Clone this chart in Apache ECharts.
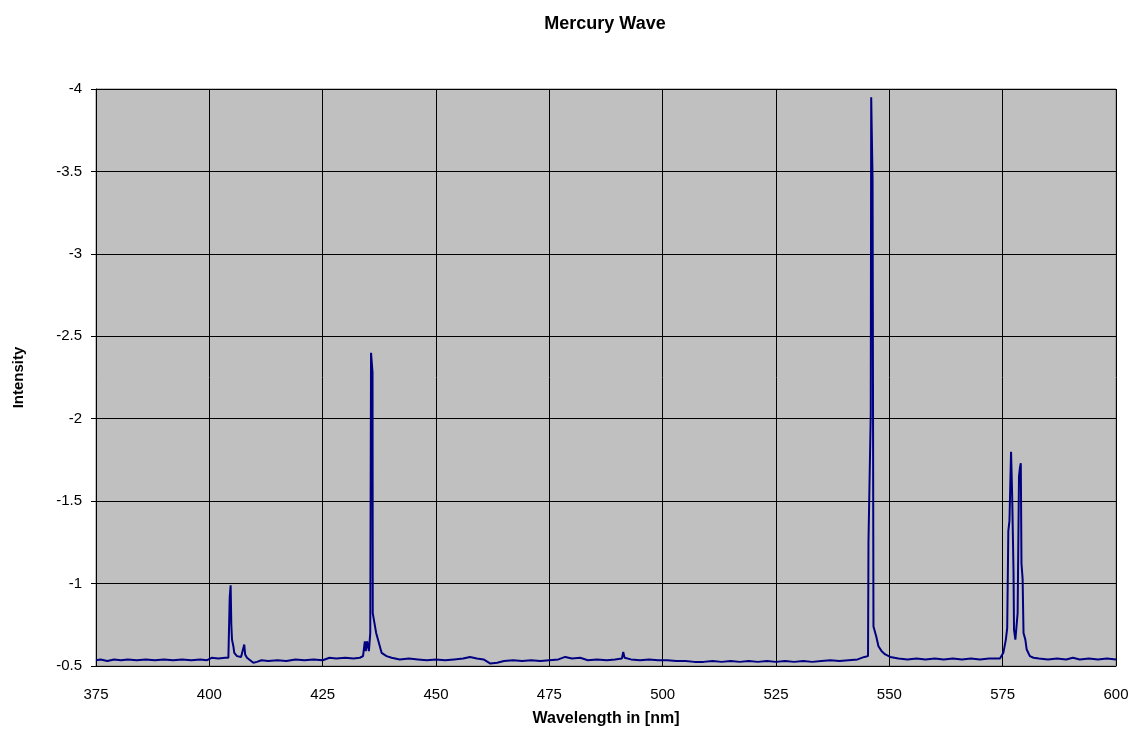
<!DOCTYPE html>
<html>
<head>
<meta charset="utf-8">
<title>Mercury Wave</title>
<script src="https://cdn.jsdelivr.net/npm/echarts@6/dist/echarts.min.js"></script>
<style>
  html, body { margin: 0; padding: 0; background: #fff; }
  #main { width: 1138px; height: 753px; }
</style>
</head>
<body>
<div id="main"></div>
<script>
// wavelength in nm
var wavelengths = [
  375, 376, 377.5, 379, 380.5, 382, 384, 386, 388, 390, 392, 394, 396, 398, 399.5,
  400.5, 402, 403.5, 404.2, 404.4, 404.5, 404.7, 404.85, 405.0, 405.3, 405.5, 406.1,
  407.0, 407.4, 407.7, 407.9, 408.3, 409.0, 409.7, 410.5, 411.5, 413, 415, 417, 419,
  421, 423, 425, 426.5, 428, 430, 431.8, 433.2, 433.9, 434.3, 434.5, 434.8, 435.2,
  435.5, 435.67, 436.0, 436.05, 436.3, 436.8, 437.3, 438.0, 439.1, 440.2, 442, 444,
  446, 448, 450, 452, 454, 456, 457.5, 459, 460.5, 462, 463.5, 465, 467, 469, 471,
  473, 475, 477, 478.5, 480, 481.8, 483.5, 485.5, 487.7, 489.5, 491, 491.3, 491.6,
  493, 495, 497, 499, 501, 503, 505, 507, 509, 511, 513, 515, 517, 519, 521, 523,
  525, 527, 529, 531, 533, 535, 537, 539, 541, 543, 544.5, 545.3, 545.4, 545.9,
  546.0, 546.3, 546.5, 547.1, 547.6, 548.3, 549.1, 550.2, 552, 554, 556, 558, 560,
  562, 564, 566, 568, 570, 572, 574.4, 575.15, 575.7, 576.0, 576.25, 576.5, 576.85,
  577.1, 577.4, 577.5, 577.8, 578.0, 578.3, 578.6, 578.8, 579.0, 579.15, 579.4,
  579.6, 580.0, 580.3, 581.0, 581.8, 583, 585, 587, 589, 590.5, 592, 594, 596, 598, 600
];

// intensity
var intensity = [
  -0.535, -0.54, -0.53, -0.54, -0.535, -0.54, -0.535, -0.54, -0.535, -0.54, -0.535, -0.54, -0.535, -0.54, -0.535,
  -0.55, -0.545, -0.55, -0.55, -0.56, -0.92, -0.99, -0.75, -0.66, -0.62, -0.58, -0.56,
  -0.555, -0.56, -0.63, -0.57, -0.55, -0.535, -0.52, -0.525, -0.535, -0.53, -0.535, -0.53, -0.54,
  -0.535, -0.54, -0.535, -0.55, -0.545, -0.55, -0.545, -0.55, -0.56, -0.65, -0.59, -0.65, -0.59,
  -0.70, -2.40, -2.28, -0.82, -0.78, -0.70, -0.65, -0.58, -0.56, -0.55, -0.54, -0.545,
  -0.54, -0.535, -0.54, -0.535, -0.54, -0.545, -0.555, -0.545, -0.54, -0.515, -0.52, -0.53, -0.535, -0.53, -0.535,
  -0.53, -0.535, -0.54, -0.555, -0.545, -0.55, -0.535, -0.54, -0.535, -0.54, -0.545, -0.585, -0.55,
  -0.54, -0.535, -0.54, -0.535, -0.535, -0.53, -0.53, -0.525, -0.525, -0.53, -0.525, -0.53, -0.525, -0.53, -0.525, -0.53,
  -0.525, -0.53, -0.525, -0.53, -0.525, -0.53, -0.535, -0.53, -0.535, -0.54, -0.555, -0.56, -1.25, -2.03,
  -3.95, -3.45, -0.74, -0.68, -0.62, -0.59, -0.57, -0.555, -0.545, -0.54, -0.545, -0.54, -0.545,
  -0.54, -0.545, -0.54, -0.545, -0.54, -0.545, -0.545, -0.58, -0.66, -0.73, -1.32, -1.38, -1.80,
  -1.53, -1.06, -0.72, -0.66, -0.66, -0.82, -1.65, -1.70, -1.73, -1.12, -1.03,
  -0.70, -0.66, -0.60, -0.56, -0.55, -0.545, -0.54, -0.545, -0.54, -0.55, -0.54, -0.545, -0.54, -0.545, -0.54
];

var xTicks = [375, 400, 425, 450, 475, 500, 525, 550, 575, 600];
var yTicks = [-4, -3.5, -3, -2.5, -2, -1.5, -1, -0.5];

var points = wavelengths.map(function (w, i) { return [w, intensity[i]]; });

var chart = echarts.init(document.getElementById('main'));
var font = 'Arial, "Liberation Sans", sans-serif';

var option = {
  animation: false,
  backgroundColor: '#ffffff',
  title: {
    text: 'Mercury Wave',
    left: 600,
    top: 10,
    textAlign: 'center',
    textStyle: { fontFamily: font, fontSize: 18, fontWeight: 'bold', color: '#000' }
  },
  grid: {
    left: 96,
    right: 22,
    top: 89,
    bottom: 87,
    show: true,
    backgroundColor: '#c0c0c0',
    borderColor: '#808080',
    borderWidth: 1
  },
  xAxis: {
    type: 'value',
    min: xTicks[0],
    max: xTicks[xTicks.length - 1],
    interval: 25,
    name: 'Wavelength in [nm]',
    nameLocation: 'middle',
    nameGap: 45,
    nameTextStyle: { fontFamily: font, fontSize: 16, fontWeight: 'bold', color: '#000' },
    axisLine: { show: true, lineStyle: { color: '#000', width: 1 } },
    axisTick: { show: false },
    axisLabel: { fontFamily: font, fontSize: 15, color: '#000', margin: 21 },
    splitLine: { show: true, lineStyle: { color: '#000', width: 1 } }
  },
  yAxis: {
    type: 'value',
    inverse: true,
    min: yTicks[0],
    max: yTicks[yTicks.length - 1],
    interval: 0.5,
    name: 'Intensity',
    nameLocation: 'middle',
    nameGap: 70,
    nameTextStyle: { fontFamily: font, fontSize: 15, fontWeight: 'bold', color: '#000' },
    axisLine: { show: true, lineStyle: { color: '#000', width: 1 } },
    axisTick: { show: true, inside: false, length: 5, lineStyle: { color: '#000' } },
    axisLabel: { fontFamily: font, fontSize: 15, color: '#000', margin: 14 },
    splitLine: { show: true, lineStyle: { color: '#000', width: 1 } }
  },
  series: [{
    name: 'Mercury',
    type: 'line',
    data: points,
    showSymbol: false,
    symbol: 'none',
    lineStyle: { color: '#000080', width: 2 },
    clip: true
  }]
};

chart.setOption(option);
</script>
</body>
</html>
